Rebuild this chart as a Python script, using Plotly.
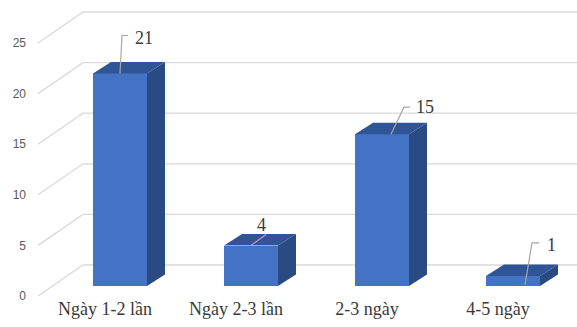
import plotly.graph_objects as go

# ---- data ----
categories = ["Ngày 1-2 lần", "Ngày 2-3 lần", "2-3 ngày", "4-5 ngày"]
values = [21, 4, 15, 1]
y_ticks = [0, 5, 10, 15, 20, 25]

# ---- layout constants (pixels) ----
W, H = 577, 327
ML, MR, MT, MB = 30, 0, 0, 31
PW, PH = W - ML - MR, H - MT - MB
PX_PER_CAT = 131.0
PX_PER_UNIT = 10.12
X0 = -(120 - ML) / PX_PER_CAT
X1 = X0 + PW / PX_PER_CAT
Y0 = -(MT + PH - 286) / PX_PER_UNIT
Y1 = Y0 + PH / PX_PER_UNIT

def dx(px):
    return px / PX_PER_CAT

def dy(px):
    return px / PX_PER_UNIT

BAR_W = dx(54)
DEPTH_X, DEPTH_Y = dx(18), dy(11.5)      # bar depth
FRONT_SHIFT_X, FRONT_SHIFT_Y = dx(-15), dy(-10)   # front plane vs bar plane
WALL_X0 = X0 + dx(8)                       # left edge of side wall (front)
WALL_DX, WALL_DY = dx(45), dy(31)          # side wall depth

FRONT = "#4472C4"
TOP = "#2F5597"
SIDE = "#294A82"
GRID = "#d9d9d9"
LEADER = "#a6a6a6"
TXT = "#3a3a3a"

fig = go.Figure()

fig.add_trace(go.Bar(
    x=list(range(len(values))), y=values, width=BAR_W,
    marker=dict(color=FRONT, line=dict(width=0)),
    hoverinfo="skip", showlegend=False,
))
# invisible trace on second axis to carry front-plane tick labels
fig.add_trace(go.Scatter(x=[X0], y=[0], yaxis="y2", mode="markers",
                         marker=dict(opacity=0), showlegend=False, hoverinfo="skip"))

shapes = []
# gridlines: side wall diagonals + back wall horizontals
for v in y_ticks:
    yf = v + FRONT_SHIFT_Y
    yb = yf + WALL_DY
    shapes.append(dict(type="path", layer="below",
                       path=f"M{WALL_X0},{yf} L{WALL_X0 + WALL_DX},{yb} L{X1},{yb}",
                       line=dict(color=GRID, width=1.3)))

# 3D faces of bars
for i, v in enumerate(values):
    xl, xr = i - BAR_W / 2, i + BAR_W / 2
    shapes.append(dict(type="path", layer="above", fillcolor=TOP, line=dict(width=0),
                       path=f"M{xl},{v} L{xr},{v} L{xr + DEPTH_X},{v + DEPTH_Y} L{xl + DEPTH_X},{v + DEPTH_Y} Z"))
    shapes.append(dict(type="path", layer="above", fillcolor=SIDE, line=dict(width=0),
                       path=f"M{xr},0 L{xr},{v} L{xr + DEPTH_X},{v + DEPTH_Y} L{xr + DEPTH_X},{DEPTH_Y} Z"))

# data label leader lines / label offsets (pixels relative to bar top-front centre)
label_style = [
    dict(start=(0, 0), elbow=(2, 38), end=(8, 38), text=(13, 35)),
    dict(start=(0, 0), elbow=(15, 11), end=(15, 11), text=(10, 21)),
    dict(start=(9, 0), elbow=(22, 27), end=(28, 27), text=(32, 27)),
    dict(start=(12, -9), elbow=(19, 33), end=(26, 33), text=(32, 31)),
]
annotations = []
for i, (v, st) in enumerate(zip(values, label_style)):
    sx, sy = i + dx(st["start"][0]), v + dy(st["start"][1])
    ex, ey = i + dx(st["elbow"][0]), v + dy(st["elbow"][1])
    hx, hy = i + dx(st["end"][0]), v + dy(st["end"][1])
    shapes.append(dict(type="path", layer="above", line=dict(color=LEADER, width=1.2),
                       path=f"M{sx},{sy} L{ex},{ey} L{hx},{hy}"))
    annotations.append(dict(x=i + dx(st["text"][0]), y=v + dy(st["text"][1]),
                            text=str(v), showarrow=False,
                            xanchor="center" if i == 1 else "left", yanchor="middle",
                            font=dict(family="Liberation Serif", size=18, color=TXT)))

fig.update_layout(
    width=W, height=H,
    margin=dict(l=ML, r=MR, t=MT, b=MB),
    paper_bgcolor="white", plot_bgcolor="white",
    shapes=shapes, annotations=annotations,
    bargap=0,
    xaxis=dict(range=[X0, X1], showgrid=False, zeroline=False, showline=False,
               tickmode="array",
               tickvals=[i + FRONT_SHIFT_X for i in range(len(categories))],
               ticktext=categories, ticks="",
               tickfont=dict(family="Liberation Serif", size=18, color=TXT)),
    yaxis=dict(range=[Y0, Y1], showgrid=False, zeroline=False, showline=False,
               showticklabels=False),
    yaxis2=dict(range=[Y0 - FRONT_SHIFT_Y, Y1 - FRONT_SHIFT_Y], overlaying="y", side="left",
                showgrid=False, zeroline=False, showline=False,
                tickmode="array", tickvals=y_ticks, ticks="",
                ticklabelstandoff=3,
                tickfont=dict(family="Liberation Sans", size=12, color="#595959")),
)

fig.write_html("out.html")
